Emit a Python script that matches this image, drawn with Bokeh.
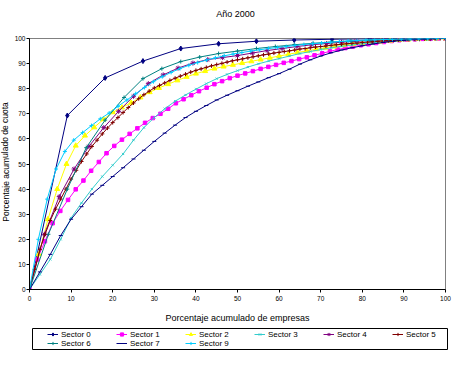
from bokeh.plotting import figure
from bokeh.models import Range1d, FixedTicker, Legend, LegendItem, Label
from bokeh.layouts import column, row
from bokeh.embed import file_html
from bokeh.resources import INLINE

FONT = "Liberation Sans"

title_text = "Año 2000"
x_label = "Porcentaje acumulado de empresas"
y_label = "Porcentaje acumulado de cuota"
tick_values = list(range(0, 101, 10))

# number of firms per sector (x = cumulative % of firms)
n_sector0 = 11
n_sector1 = 54
n_sector2 = 45
n_sector3 = 40
n_sector4 = 28
n_sector5 = 80
n_sector6 = 22
n_sector7 = 40
n_sector9 = 47

# cumulative % of market share
sector0 = [0, 69.3, 84.3, 91.0, 96.0, 97.9, 98.9, 99.4, 99.7, 99.9, 100, 100]
sector1 = [0, 12, 19.2, 26.4, 31.3, 35.7, 39.9, 43.4, 47.3, 50.8, 54.3, 57.2, 59.7, 62.0,
           64.2, 66.4, 68.3, 70.0, 72.0, 74.2, 75.8, 77.4, 79.0, 80.4, 81.8, 83.0, 84.2, 85.2,
           86.1, 87.0, 87.9, 88.7, 89.5, 90.3, 91.0, 91.8, 92.5, 93.3, 94.1, 94.9, 95.6, 96.2,
           96.8, 97.3, 97.7, 98.2, 98.6, 99.0, 99.3, 99.5, 99.7, 99.85, 99.93, 99.98, 100]
sector2 = [0, 14, 28, 40, 50, 57.3, 61.3, 64.6, 67.8, 70.6, 72.5, 74.4, 76.5, 78.6, 80.3,
           81.8, 83.3, 84.7, 86.0, 87.0, 88.0, 88.8, 89.5, 90.2, 90.9, 91.6, 92.3, 93.0, 93.7,
           94.4, 95.1, 95.7, 96.3, 96.8, 97.3, 97.7, 98.1, 98.5, 98.8, 99.1, 99.4, 99.6, 99.8,
           99.9, 100, 100]
sector3 = [0, 6, 12, 20, 28.5, 34.5, 40, 45, 49.5, 54, 59.5, 64.5, 68.5, 72, 75, 77.5, 79.8,
           82, 84, 85.7, 87.2, 88.6, 89.9, 91, 92, 93, 94, 94.8, 95.6, 96.3, 96.9, 97.4, 97.9,
           98.3, 98.7, 99.0, 99.3, 99.6, 99.8, 99.9, 100]
sector4 = [0, 22, 37, 48, 57, 64.5, 71, 77, 82, 85.5, 88.2, 90.2, 91.6, 92.4, 93.2, 94.2,
           95.2, 96.0, 96.8, 97.5, 98.0, 98.5, 98.9, 99.2, 99.5, 99.7, 99.85, 99.95, 100]
sector5 = [0, 8, 16, 22, 27.5, 32, 36, 40, 44, 47.5,
           51, 54, 57, 59.5, 62, 64.3, 66.5, 68.5, 70.5, 72.5,
           74.3, 76, 77.6, 79, 80.3, 81.3, 82.3, 83.3, 84.2, 85,
           85.8, 86.6, 87.3, 87.9, 88.5, 89.1, 89.6, 90.1, 90.6, 91.1,
           91.5, 91.9, 92.3, 92.7, 93.1, 93.5, 93.8, 94.2, 94.5, 94.8,
           95.1, 95.4, 95.8, 96.0, 96.3, 96.6, 96.8, 97.0, 97.3, 97.5,
           97.7, 97.9, 98.1, 98.2, 98.4, 98.6, 98.7, 98.9, 99.0, 99.1,
           99.3, 99.4, 99.5, 99.6, 99.7, 99.7, 99.8, 99.9, 99.9, 100,
           100]
sector6 = [0, 22, 40, 56.5, 67.5, 76.5, 84, 88, 90.8, 92.6, 94, 95, 96, 96.8, 97.5, 98.1,
           98.6, 99.0, 99.4, 99.7, 99.85, 99.95, 100]
sector7 = [0, 7, 14, 21.5, 28, 33, 38, 41.5, 45, 48.5, 52, 55.5, 59, 62.3, 65.5, 68.5, 71,
           73.3, 75.5, 77.4, 79.2, 81, 82.7, 84.4, 86, 87.8, 89.8, 91.5, 93, 94.3, 95.4, 96.3,
           97.1, 97.8, 98.4, 98.9, 99.3, 99.6, 99.8, 99.95, 100]
sector9 = [0, 20, 36, 48, 55, 59.5, 62.5, 65.3, 68, 70.3, 73, 75.5, 78, 80.5, 82.8, 84.8,
           86.5, 88, 89.3, 90.4, 91.4, 92.3, 93.1, 93.8, 94.4, 95, 95.5, 96, 96.4, 96.8, 97.2,
           97.6, 97.9, 98.2, 98.5, 98.8, 99.0, 99.2, 99.4, 99.5, 99.6, 99.7, 99.8, 99.85, 99.9,
           99.95, 100, 100]

series_names = ["Sector 0", "Sector 1", "Sector 2", "Sector 3", "Sector 4",
                "Sector 5", "Sector 6", "Sector 7", "Sector 9"]
series_y = [sector0, sector1, sector2, sector3, sector4, sector5, sector6, sector7, sector9]
series_n = [n_sector0, n_sector1, n_sector2, n_sector3, n_sector4, n_sector5,
            n_sector6, n_sector7, n_sector9]

colors = ["#000080", "#FF00FF", "#FFFF00", "#33CCCC", "#800080",
          "#800000", "#008080", "#000080", "#00CCFF"]
markers = ["diamond", "square", "triangle", "x", "asterisk",
           "cross", "cross", "dash", "cross"]
msizes = [5, 3.5, 5, 3, 5, 4, 4, 4, 4]


def blank_figure(w, h):
    f = figure(width=w, height=h, x_range=Range1d(0, w), y_range=Range1d(0, h),
               output_backend="svg", toolbar_location=None,
               x_axis_location=None, y_axis_location=None, min_border=0)
    f.xgrid.visible = False
    f.ygrid.visible = False
    f.outline_line_color = None
    f.background_fill_color = "white"
    f.border_fill_color = "white"
    return f


# ---------------- title strip ----------------
pt = blank_figure(456, 20)
pt.add_layout(Label(x=223, y=7, text=title_text, text_align="center",
                    text_baseline="alphabetic", text_font=FONT, text_font_size="9px",
                    text_color="black"))

# ---------------- y-label strip ----------------
py = blank_figure(10, 305)
py.add_layout(Label(x=5, y=155, text=y_label, text_align="center", angle=1.5708,
                    text_baseline="middle", text_font=FONT, text_font_size="8.5px",
                    text_color="black"))

# ---------------- main chart ----------------
p = figure(width=446, height=305, x_range=Range1d(0, 100), y_range=Range1d(0, 100),
           output_backend="svg", toolbar_location=None,
           min_border_left=19, min_border_right=11, min_border_top=18, min_border_bottom=33)
p.background_fill_color = "white"
p.border_fill_color = "white"
p.outline_line_color = "#808080"
p.outline_line_width = 1
p.xgrid.visible = False
p.ygrid.visible = False

for ax in (p.xaxis[0], p.yaxis[0]):
    ax.ticker = FixedTicker(ticks=tick_values)
    ax.axis_line_color = "black"
    ax.major_tick_line_color = "black"
    ax.major_tick_out = 3
    ax.major_tick_in = 0
    ax.minor_tick_out = 0
    ax.minor_tick_in = 0
    ax.major_label_text_font = FONT
    ax.major_label_text_font_size = "6.5px"
    ax.major_label_text_color = "black"
p.xaxis.major_label_standoff = 3
p.yaxis.major_label_standoff = 1
p.xaxis.axis_label = x_label
p.xaxis.axis_label_text_font = FONT
p.xaxis.axis_label_text_font_size = "9px"
p.xaxis.axis_label_text_font_style = "normal"
p.xaxis.axis_label_text_color = "black"
p.xaxis.axis_label_standoff = 9

for name, ys, n, c, m, s in zip(series_names, series_y, series_n, colors, markers, msizes):
    xs = [100.0 * i / n for i in range(len(ys))]
    p.line(xs, ys, line_color=c, line_width=1)
    p.scatter(xs, ys, marker=m, size=s, line_color=c, fill_color=c, line_width=1)

# ---------------- legend strip ----------------
pl = figure(width=456, height=40, x_range=Range1d(0, 1), y_range=Range1d(0, 1),
            output_backend="svg", toolbar_location=None,
            x_axis_location=None, y_axis_location=None,
            min_border_left=32, min_border_right=9, min_border_top=3, min_border_bottom=16)
pl.xgrid.visible = False
pl.ygrid.visible = False
pl.outline_line_color = "black"
pl.outline_line_width = 1
pl.background_fill_color = "white"
pl.border_fill_color = "white"

nan = float("nan")
legend_items = []
for name, c, m, s in zip(series_names, colors, markers, msizes):
    lr = pl.line(x=[nan], y=[nan], line_color=c, line_width=1)
    sr = pl.scatter(x=[nan], y=[nan], marker=m, size=s, line_color=c, fill_color=c,
                    line_width=1)
    legend_items.append(LegendItem(label=name, renderers=[lr, sr]))

legend = Legend(items=legend_items, orientation="horizontal", ncols=6, location="left",
                label_text_font=FONT, label_text_font_size="8px", label_text_color="black",
                glyph_width=11, glyph_height=8, label_height=9, label_width=55,
                label_standoff=3, spacing=0, padding=1, margin=14,
                border_line_alpha=0, background_fill_alpha=0)
pl.add_layout(legend, "center")

layout = column(pt, row(py, p, spacing=0), pl, spacing=0)
open("out.html", "w").write(file_html(layout, INLINE))
